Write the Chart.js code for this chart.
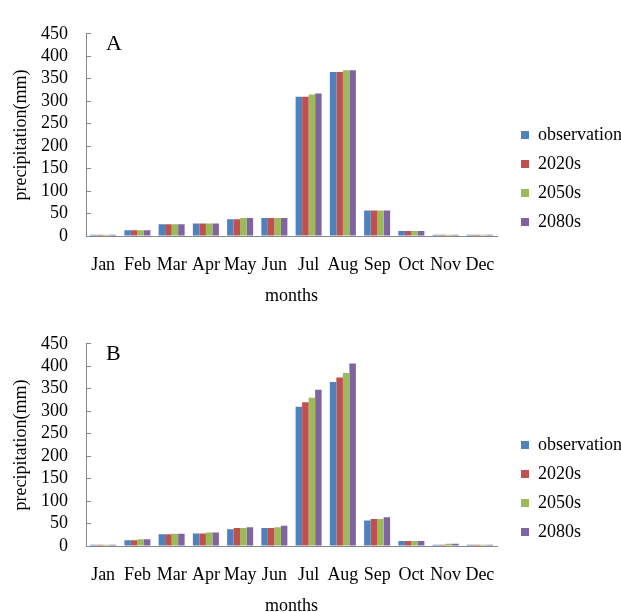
<!DOCTYPE html>
<html>
<head>
<meta charset="utf-8">
<script src="https://cdn.jsdelivr.net/npm/chart.js@4.4.0/dist/chart.umd.min.js"></script>
<style>
  body { margin: 0; background: #fff; overflow: hidden; }
  .panel { position: absolute; left: 0; width: 621px; height: 310px; }
</style>
</head>
<body>
<div class="panel" style="top:0"><canvas id="chartA"></canvas></div>
<div class="panel" style="top:310px"><canvas id="chartB"></canvas></div>
<script>
// months and series
const months = ['Jan', 'Feb', 'Mar', 'Apr', 'May', 'Jun', 'Jul', 'Aug', 'Sep', 'Oct', 'Nov', 'Dec'];
const seriesNames = ['observation', '2020s', '2050s', '2080s'];
const seriesColors = ['#4F81BD', '#C0504D', '#9BBB59', '#8064A2'];

// precipitation values (mm)
const observation = [3, 13, 26, 28, 37, 40, 310, 365, 57, 11, 3, 3];

// panel A
const a2020s = [3, 13, 26, 28, 37, 40, 310, 365, 57, 11, 3, 3];
const a2050s = [3, 13, 26, 28, 40, 40, 315, 369, 57, 11, 3, 3];
const a2080s = [3, 13, 26, 28, 40, 40, 317, 369, 57, 11, 3, 3];

// panel B
const b2020s = [3, 13, 26, 28, 40, 40, 320, 375, 60, 11, 3, 3];
const b2050s = [3, 15, 27, 30, 40, 42, 330, 385, 60, 11, 5, 3];
const b2080s = [3, 15, 27, 30, 42, 45, 348, 406, 64, 11, 5, 3];

// y axis range
const yMin = 0;
const yMax = 450;
const yStep = 50;

Chart.defaults.font.family = '"Liberation Serif", "Times New Roman", serif';
Chart.defaults.color = '#000';

// keep the plot area ending at the same x in both panels and move the legend down/right
const legendPlacer = {
  id: 'legendPlacer',
  beforeLayout(chart) {
    const lg = chart.legend;
    if (lg && !lg.patched) {
      const fit = lg.fit;
      lg.fit = function () { fit.call(this); this.width = 124; };
      lg.patched = true;
    }
  },
  afterLayout(chart) {
    const lg = chart.legend;
    lg.left += 13; lg.right += 13;
    lg.top += 18; lg.bottom += 18;
  }
};

// the "A" / "B" letter in the corner of each plot
const panelLabel = {
  id: 'panelLabel',
  afterDraw(chart, args, opts) {
    const c = chart.ctx;
    c.save();
    c.font = '22px "Liberation Serif"';
    c.fillStyle = '#000';
    c.textAlign = 'left';
    c.textBaseline = 'alphabetic';
    c.fillText(opts.text, chart.chartArea.left + 20, chart.chartArea.top + 16);
    c.restore();
  }
};

function makeChart(id, letter, values) {
  const ctx = document.getElementById(id).getContext('2d');
  return new Chart(ctx, {
    type: 'bar',
    data: {
      labels: months,
      datasets: seriesNames.map((name, i) => ({
        label: name,
        data: values[i],
        backgroundColor: seriesColors[i],
        categoryPercentage: 0.76,
        barPercentage: 1.0
      }))
    },
    options: {
      responsive: true,
      maintainAspectRatio: false,
      animation: false,
      layout: { padding: { top: 11, left: 0, right: 0, bottom: 0 } },
      plugins: {
        legend: {
          position: 'right',
          labels: { boxWidth: 8, boxHeight: 8, padding: 11, color: '#000', font: { size: 18 } }
        },
        tooltip: { enabled: false },
        panelLabel: { text: letter }
      },
      scales: {
        x: {
          grid: { display: false, drawTicks: false },
          border: { color: '#868686' },
          ticks: { color: '#000', padding: 18, maxRotation: 0, autoSkip: false, font: { size: 18 } },
          title: { display: true, text: 'months', color: '#000', font: { size: 18 }, padding: { top: 3, bottom: 3 } },
          afterFit: s => { s.height = 74; }
        },
        y: {
          min: yMin,
          max: yMax,
          ticks: { stepSize: yStep, autoSkip: false, color: '#000', padding: 23, font: { size: 18 } },
          grid: { drawOnChartArea: false, drawTicks: true, tickLength: -5, color: '#868686' },
          border: { color: '#868686' },
          title: { display: true, text: 'precipitation(mm)', color: '#000', font: { size: 18 }, padding: { top: 10, bottom: 0 } },
          afterFit: s => { s.width = 86; }
        }
      }
    },
    plugins: [legendPlacer, panelLabel]
  });
}

makeChart('chartA', 'A', [observation, a2020s, a2050s, a2080s]);
makeChart('chartB', 'B', [observation, b2020s, b2050s, b2080s]);
</script>
</body>
</html>
